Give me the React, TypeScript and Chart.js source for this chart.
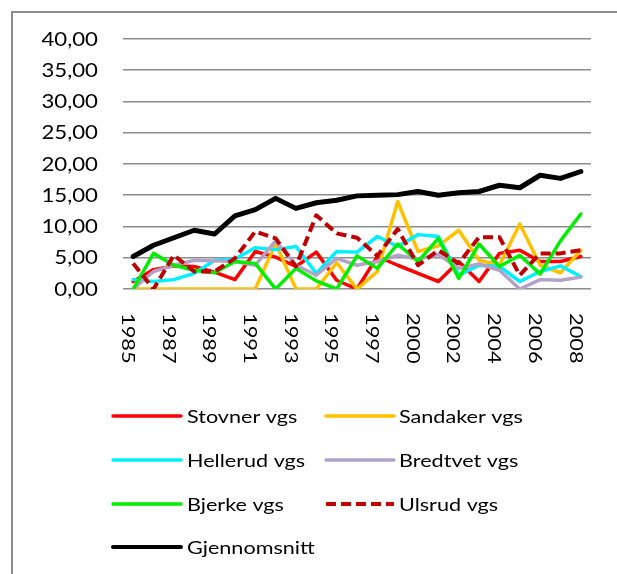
import React, { useEffect, useRef } from 'react';
import { Chart, registerables } from 'chart.js';

Chart.register(...registerables);

const years = [
  '1985', '1986', '1987', '1988', '1989', '1990', '1991', '1992', '1993', '1994',
  '1995', '1996', '1997', '1999', '2000', '2001', '2002', '2003', '2004', '2005',
  '2006', '2007', '2008',
];

const stovnerVgs = [1.2, 3.1, 3.7, 3.6, 2.7, 1.5, 6.0, 5.1, 3.6, 5.9, 1.4, 0.0, 5.2, 3.8, 2.5, 1.2, 4.4, 1.2, 5.7, 6.2, 4.4, 4.4, 5.2];
const sandakerVgs = [0, 0, 0, 0, 0, 0, 0, 7.3, 0, 0, 4.2, 0, 2.8, 14.0, 6.0, 6.9, 9.4, 4.6, 3.8, 10.4, 3.8, 2.6, 6.2];
const hellerudVgs = [1.5, 1.2, 1.5, 2.5, 4.6, 4.8, 6.6, 6.3, 6.8, 2.5, 6.0, 5.9, 8.4, 6.8, 8.7, 8.4, 2.2, 3.8, 3.6, 1.2, 2.8, 3.7, 2.0];
const bredtvetVgs = [0, 2.8, 3.8, 4.6, 4.5, 4.4, 3.8, 7.7, 3.8, 2.2, 4.9, 3.8, 4.4, 5.4, 4.8, 5.5, 3.3, 4.0, 3.0, 0, 1.5, 1.4, 1.9];
const bjerkeVgs = [0, 5.7, 3.8, 3.0, 2.6, 4.4, 4.1, 0, 3.3, 1.3, 0, 5.3, 3.3, 7.2, 4.4, 8.1, 1.7, 7.2, 3.6, 5.4, 2.4, 7.7, 12.0];
const ulsrudVgs = [4.1, 0, 5.4, 2.8, 2.8, 4.9, 9.2, 8.1, 3.6, 11.8, 8.9, 8.2, 5.3, 9.6, 3.8, 6.2, 4.1, 8.3, 8.3, 2.2, 5.7, 5.7, 6.2];
const gjennomsnitt = [5.2, 7.0, 8.2, 9.4, 8.8, 11.7, 12.7, 14.5, 12.9, 13.8, 14.2, 14.9, 15.0, 15.1, 15.6, 15.0, 15.4, 15.6, 16.6, 16.2, 18.2, 17.7, 18.8];

const yTickValues = [0, 5, 10, 15, 20, 25, 30, 35, 40];

const seriesLabels = [
  'Stovner vgs', 'Sandaker vgs', 'Hellerud vgs', 'Bredtvet vgs',
  'Bjerke vgs', 'Ulsrud vgs', 'Gjennomsnitt',
];

const FONT = 'Lato, "Open Sans", sans-serif';
const STRETCH = 1.2;

function fmt(v: number): string {
  return v.toFixed(2).replace('.', ',');
}

const excelPlugin = {
  id: 'excelText',
  beforeDraw(chart: any) {
    const ctx = chart.ctx;
    ctx.save();
    ctx.strokeStyle = '#8C8C8C';
    ctx.lineWidth = 2;
    ctx.beginPath();
    ctx.moveTo(12, chart.height);
    ctx.lineTo(12, 12);
    ctx.lineTo(chart.width, 12);
    ctx.stroke();
    ctx.restore();
  },
  afterDraw(chart: any) {
    const ctx = chart.ctx;
    const xs = chart.scales.x;
    const ys = chart.scales.y;
    ctx.save();
    ctx.fillStyle = '#000000';
    ctx.textBaseline = 'alphabetic';

    // y tick labels
    ctx.font = `18.5px ${FONT}`;
    ctx.textAlign = 'right';
    yTickValues.forEach((v) => {
      const y = ys.getPixelForValue(v);
      ctx.save();
      ctx.translate(98, y + 6.7);
      ctx.scale(STRETCH, 1);
      ctx.fillText(fmt(v), 0, 0);
      ctx.restore();
    });

    // x tick labels (rotated clockwise)
    ctx.font = `17.5px ${FONT}`;
    ctx.textAlign = 'left';
    years.forEach((lab, i) => {
      if (i % 2 !== 0) return;
      const xc = xs.getPixelForValue(i) - 5;
      ctx.save();
      ctx.translate(xc - 6.3, 313);
      ctx.rotate(Math.PI / 2);
      ctx.scale(1.25, 1);
      ctx.fillText(lab, 0, 0);
      ctx.restore();
    });

    // legend
    const colLine = [113, 326];
    const colText = [187, 399];
    const rowY = [416, 460, 504, 547];
    ctx.font = `18px ${FONT}`;
    chart.data.datasets.forEach((ds: any, k: number) => {
      const col = k % 2;
      const row = Math.floor(k / 2);
      const y = rowY[row];
      ctx.save();
      ctx.strokeStyle = ds.borderColor;
      ctx.lineWidth = Math.min(ds.borderWidth, 4);
      ctx.setLineDash(ds.borderDash || []);
      ctx.lineCap = ds.borderDash ? 'butt' : 'round';
      ctx.beginPath();
      ctx.moveTo(colLine[col], y);
      ctx.lineTo(colLine[col] + 68, y);
      ctx.stroke();
      ctx.restore();
      ctx.save();
      ctx.translate(colText[col], y + 6.6);
      ctx.scale(STRETCH, 1);
      ctx.fillText(ds.label, 0, 0);
      ctx.restore();
    });
    ctx.restore();
  },
};

export default function App() {
  const ref = useRef<HTMLCanvasElement | null>(null);

  useEffect(() => {
    if (!ref.current) return;
    const seriesData = [stovnerVgs, sandakerVgs, hellerudVgs, bredtvetVgs, bjerkeVgs, ulsrudVgs, gjennomsnitt];
    const colors = ['#FF0000', '#FFC000', '#00F0FF', '#B3A2C7', '#00EE00', '#C00000', '#000000'];
    const widths = [3.5, 3.5, 3.5, 3.5, 3.5, 4, 5];
    const datasets = seriesData.map((d, i) => ({
      label: seriesLabels[i],
      data: d,
      borderColor: colors[i],
      backgroundColor: colors[i],
      borderWidth: widths[i],
      borderDash: i === 5 ? [10, 5] : undefined,
      borderCapStyle: i === 5 ? 'butt' : 'round',
      borderJoinStyle: 'round',
      pointRadius: 0,
      pointHoverRadius: 0,
      tension: 0,
      fill: false,
      order: seriesData.length - i,
    }));

    const chart = new Chart(ref.current, {
      type: 'line',
      data: { labels: years, datasets: datasets as any },
      options: {
        animation: false,
        responsive: false,
        devicePixelRatio: 1,
        layout: { padding: { top: 39, right: 26, left: 0, bottom: 0 } },
        plugins: {
          legend: { display: false },
          tooltip: { enabled: false },
        },
        scales: {
          x: {
            type: 'category',
            offset: true,
            grid: { display: false },
            border: { display: false },
            ticks: { display: false },
            afterFit: (scale: any) => { scale.height = 574 - 289; },
          },
          y: {
            min: 0,
            max: 40,
            ticks: { display: false, stepSize: 5 },
            grid: { color: '#8C8C8C', lineWidth: 1.6, drawTicks: false },
            border: { display: false },
            afterFit: (scale: any) => { scale.width = 123; },
          },
        },
      },
      plugins: [excelPlugin],
    });
    return () => chart.destroy();
  }, []);

  return (
    <div style={{ position: 'absolute', left: 0, top: 0, width: 617, height: 574, background: '#ffffff' }}>
      <canvas ref={ref} width={617} height={574} style={{ display: 'block' }} />
    </div>
  );
}
